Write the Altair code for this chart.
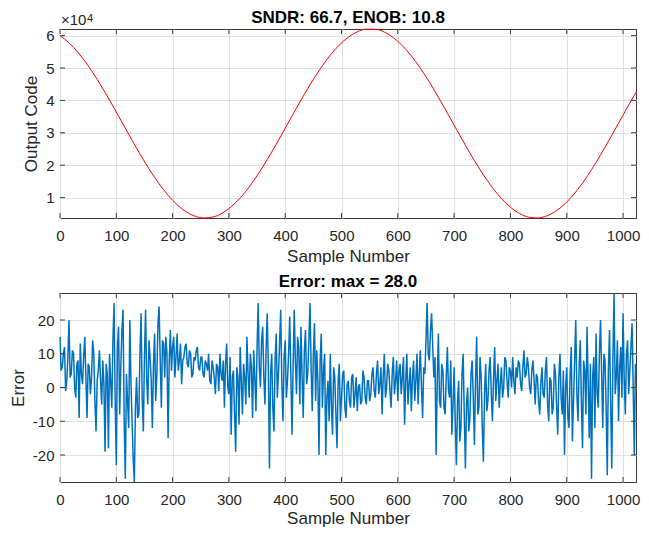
import altair as alt
import pandas as pd

# Top panel: output code read every 16 samples
code_x = [0, 16, 32, 48, 64, 80, 96, 112, 128, 144, 160, 176, 192, 208, 224, 240,
          256, 272, 288, 304, 320, 336, 352, 368, 384, 400, 416, 432, 448, 464, 480, 496,
          512, 528, 544, 560, 576, 592, 608, 624, 640, 656, 672, 688, 704, 720, 736, 752,
          768, 784, 800, 816, 832, 848, 864, 880, 896, 912, 928, 944, 960, 976, 992, 1008, 1023]
code_y = [60010, 57780, 54800, 51190, 47050, 42490, 37650, 32670, 27690, 22880, 18340, 14240,
          10690, 7780, 5610, 4240, 3710, 4030, 5190, 7170, 9900, 13300, 17280, 21710,
          26460, 31420, 36410, 41300, 45940, 50200, 53970, 57100, 59530, 61180, 62010, 61980,
          61100, 59400, 56920, 53740, 49950, 45660, 41000, 36090, 31100, 26160, 21420, 17010,
          13080, 9710, 7020, 5100, 3980, 3720, 4300, 5730, 7950, 10890, 14480, 18620,
          23170, 28000, 32980, 37960, 42490]

# Bottom panel: error, read at samples 0, 4, 8, ... (err_a) and 2, 6, 10, ... (err_b)
err_a = [15, 6, 12, 2, 20, 4, 10, -3, 8, 13,
         1, 15, -9, 6, 3, 10, -13, 5, 2, 8,
         -19, 4, 10, -6, 25, -23, 18, 6, 23, -27,
         -4, 20, -10, -28, 3, -8, 22, -13, 23, -5,
         9, -12, 16, 4, 24, -6, 13, 15, -15, 17,
         12, 3, 16, 8, 1, 9, 13, 6, 10, 4,
         8, 12, 5, 9, 3, 7, 10, 1, 6, -2,
         6, 10, 2, -6, 13, -2, -14, 5, -19, 3,
         12, -8, 3, 15, -3, 6, 11, -7, 25, 0,
         18, -5, 22, -24, 10, -13, 16, 4, 23, -10,
         14, 2, 21, -14, 23, -2, 12, 18, -9, 17,
         4, 25, -7, 19, 11, -20, 16, 5, -20, 2,
         10, -14, 3, -18, 7, -3, 5, -9, 2, -6,
         4, -2, -7, 1, -4, 3, -5, 2, -2, 6,
         -3, 8, 1, -8, 10, 0, 5, -6, 9, 2,
         -4, 7, 3, -11, 10, 1, -7, 8, 2, -5,
         11, -9, 4, 25, 8, 22, 3, -20, 16, -6,
         5, -8, 12, -3, -14, 6, -23, 2, -12, 10,
         -24, 0, -9, 8, -17, 15, -6, 3, -22, 7,
         -4, 9, -10, 12, 2, -6, 6, 0, 8, -3,
         5, 9, -2, 3, 7, -1, 11, 4, 6, -2,
         8, -5, 3, -8, 6, -3, 9, -10, 2, -6,
         4, -14, 10, -8, -20, 6, -12, 12, -4, 20,
         -10, 14, -18, 5, 18, -15, -27, 9, 16, -6,
         20, -12, 8, -26, 17, -24, 28, 3, -10, 12,
         22, -8, 14, 5, 19, -20]
err_b = [5, 10, -1, 9, 3, 11, 0, 7, -9, 4,
         9, 3, 7, -2, 14, -4, 2, 11, -5, 1,
         7, -18, 2, 14, -4, 12, -8, 17, -10, 4,
         -12, 2, -21, -6, -9, 10, -3, 9, 2, 14,
         2, 7, -4, 19, 8, 14, 3, 10, 8, 5,
         15, 9, 5, 13, 8, 12, 7, 11, 3, 9,
         11, 6, 9, 4, 8, 5, 2, 8, 3, 7,
         -1, 4, 8, 7, 0, 9, 3, -8, 6, -11,
         2, 7, -5, 4, 10, -9, 3, 12, 6, 14,
         3, 11, 6, 4, -6, 8, -3, 13, 1, 9,
         -3, 10, 4, 6, 8, 15, -5, 3, 11, 1,
         14, 6, 10, -4, 2, 8, -6, 10, -3, -10,
         -5, 6, -8, 2, -10, 4, -6, 1, -4, 3,
         -6, 3, 0, -5, 5, -3, 2, -4, 4, -1,
         4, -2, 6, 3, -3, 7, -1, 4, -2, 8,
         5, -2, 9, 2, -5, 6, 3, -4, 10, 4,
         0, 6, 14, 10, 17, 12, 9, 2, -4, 7,
         -6, 3, -1, 8, -5, -10, -4, -16, 4, -8,
         -5, -13, 4, -3, 2, -8, 9, -12, -2, -7,
         5, -2, 3, -4, 7, 1, -3, 9, 2, 6,
         0, 2, 6, 8, 1, 6, 3, 9, 0, 5,
         2, 4, -4, 1, -2, 5, -5, 3, -8, 7,
         -6, 3, -3, 5, 0, -9, 4, -16, 8, -2,
         6, -4, 8, -8, 2, 7, 3, -12, -2, 10,
         4, 10, -6, 6, -5, 9, -2, 14, 6, -3,
         3, 10, -2, 12, 0, 7]
err_last = 4  # sample 1023

err_x, err_y = [], []
for i in range(min(len(err_a), len(err_b))):
    err_x += [4 * i, 4 * i + 2]
    err_y += [err_a[i], err_b[i]]
err_x.append(1023)
err_y.append(err_last)

x_ticks = [0, 100, 200, 300, 400, 500, 600, 700, 800, 900, 1000]
code_ticks = [10000, 20000, 30000, 40000, 50000, 60000]
err_ticks = [-20, -10, 0, 10, 20]

W, H1, H2 = 576, 189, 189
FONT = "Liberation Sans"
AX = "#262626"
FRAME = "#3a3a3a"
GRID = "#e0e0e0"
TL = 5  # inward tick length

code_df = pd.DataFrame({"x": code_x, "y": code_y})
err_df = pd.DataFrame({"x": err_x, "y": err_y})
xt_df = pd.DataFrame({"x": x_ticks})

xscale = alt.Scale(domain=[0, 1023], nice=False, zero=False)


def make_xaxis(lp, tp):
    return alt.Axis(values=x_ticks, title="Sample Number", grid=True, gridColor=GRID,
                    ticks=False, domain=False, labelPadding=lp, titlePadding=tp,
                    labelFlush=False, labelExpr="'' + datum.value")


def panel(df, color, sw, interp, yscale, yaxis, yticks, H, xaxis, title_lines):
    line_kw = dict(color=color, strokeWidth=sw)
    if interp:
        line_kw["interpolate"] = interp
    line = alt.Chart(df).mark_line(**line_kw).encode(
        x=alt.X("x:Q", scale=xscale, axis=xaxis),
        y=alt.Y("y:Q", scale=yscale, axis=yaxis),
    )
    yt_df = pd.DataFrame({"y": yticks})
    tick_b = alt.Chart(xt_df).mark_rule(color=FRAME, strokeWidth=1).encode(
        x=alt.X("x:Q", scale=xscale, axis=xaxis), y=alt.value(H), y2=alt.value(H - TL))
    tick_t = alt.Chart(xt_df).mark_rule(color=FRAME, strokeWidth=1).encode(
        x=alt.X("x:Q", scale=xscale, axis=xaxis), y=alt.value(0), y2=alt.value(TL))
    tick_l = alt.Chart(yt_df).mark_rule(color=FRAME, strokeWidth=1).encode(
        y=alt.Y("y:Q", scale=yscale, axis=yaxis), x=alt.value(0), x2=alt.value(TL))
    tick_r = alt.Chart(yt_df).mark_rule(color=FRAME, strokeWidth=1).encode(
        y=alt.Y("y:Q", scale=yscale, axis=yaxis), x=alt.value(W - TL), x2=alt.value(W))
    layers = [line, tick_b, tick_t, tick_l, tick_r]
    for txt, xpos, ypos, size, weight, align in title_lines:
        layers.append(
            alt.Chart(pd.DataFrame({"t": [txt]})).mark_text(
                align=align, baseline="bottom", font=FONT, fontSize=size,
                fontWeight=weight, color="#000000" if weight == "bold" else AX
            ).encode(x=alt.value(xpos), y=alt.value(ypos), text="t:N")
        )
    return alt.layer(*layers).properties(width=W, height=H)


code_scale = alt.Scale(domain=[3700, 62050], nice=False, zero=False)
code_axis = alt.Axis(values=code_ticks, labelExpr="'' + datum.value / 10000", title="Output Code",
                     grid=True, gridColor=GRID, ticks=False, domain=False,
                     labelPadding=6, titlePadding=5)
err_scale = alt.Scale(domain=[-28, 28], nice=False, zero=False)
err_axis = alt.Axis(values=err_ticks, labelExpr="'' + datum.value", title="Error",
                    grid=True, gridColor=GRID, ticks=False, domain=False,
                    labelPadding=6, titlePadding=5)

top = panel(code_df, "#ff0000", 1, "monotone", code_scale, code_axis, code_ticks, H1,
            make_xaxis(10, 5), [
                ("SNDR: 66.7, ENOB: 10.8", W / 2, -2, 17, "bold", "center"),
                ("×10", 1, -1, 15, "normal", "left"),
                ("4", 27, -5, 11, "normal", "left"),
            ])
bot = panel(err_df, "#0072bd", 1.5, None, err_scale, err_axis, err_ticks, H2,
            make_xaxis(10, 3), [
                ("Error: max = 28.0", W / 2, -2, 17, "bold", "center"),
            ])

chart = alt.vconcat(top, bot, spacing=7).configure_view(
    stroke=FRAME, strokeWidth=1
).configure_axis(
    labelFont=FONT, titleFont=FONT, labelFontSize=15, titleFontSize=17,
    labelColor=AX, titleColor=AX, titleFontWeight="normal"
).properties(padding={"left": 0, "top": 0, "right": 0, "bottom": 0})

chart.save("out.html", embed_options={"renderer": "svg", "actions": False})
